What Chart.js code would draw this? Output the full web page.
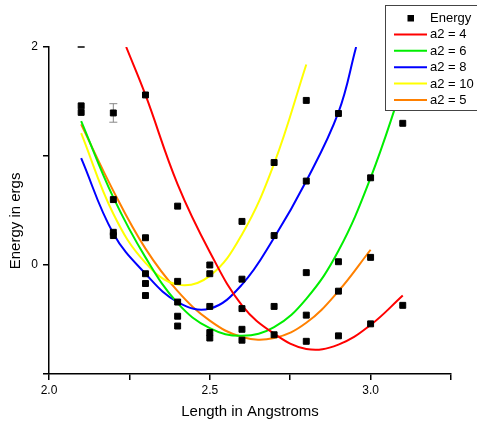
<!DOCTYPE html>
<html><head><meta charset="utf-8">
<script src="https://cdn.jsdelivr.net/npm/chart.js@4"></script>
<style>html,body{margin:0;padding:0;background:#fff}canvas{display:block}</style>
</head><body>
<canvas id="c" width="477" height="421"></canvas>
<script>
// Measured points (Energy)
const energyX = [2.1,2.1, 2.2,2.2,2.2,2.2, 2.3,2.3,2.3,2.3,2.3, 2.4,2.4,2.4,2.4,2.4, 2.5,2.5,2.5,2.5,2.5, 2.6,2.6,2.6,2.6,2.6, 2.7,2.7,2.7,2.7, 2.8,2.8,2.8,2.8,2.8, 2.9,2.9,2.9,2.9, 3.0,3.0,3.0, 3.1,3.1];
const energyY = [1.46,1.40, 1.395,0.60,0.30,0.27, 1.56,0.25,-0.08,-0.17,-0.28, 0.54,-0.15,-0.34,-0.47,-0.56, 0.00,-0.08,-0.38,-0.62,-0.67, 0.40,-0.13,-0.40,-0.59,-0.69, 0.94,0.27,-0.38,-0.64, 1.51,0.77,-0.07,-0.46,-0.70, 1.39,0.03,-0.24,-0.65, 0.80,0.07,-0.54, 1.30,-0.37];

// Error bar on one point
const errX = [2.2, 2.2];
const errY = [1.31, 1.48];
// Short cap mark at top edge
const capX = [2.1];
const capY = [2.0];

// Fitted curves
const a4X  = [2.24, 2.3, 2.4, 2.5, 2.6, 2.7, 2.8, 2.9, 3.0, 3.1];
const a4Y  = [2.0, 1.56, 0.74, 0.12, -0.37, -0.63, -0.77, -0.73, -0.55, -0.28];
const a6X  = [2.1, 2.2, 2.3, 2.4, 2.5, 2.6, 2.7, 2.8, 2.9, 3.0, 3.1];
const a6Y  = [1.32, 0.62, 0.07, -0.35, -0.58, -0.65, -0.57, -0.31, 0.13, 0.80, 1.65];
const a8X  = [2.1, 2.2, 2.3, 2.4, 2.5, 2.6, 2.7, 2.8, 2.9, 2.955];
const a8Y  = [0.98, 0.29, -0.08, -0.34, -0.40, -0.18, 0.25, 0.77, 1.40, 2.0];
const a10X = [2.1, 2.2, 2.3, 2.4, 2.5, 2.6, 2.7, 2.8];
const a10Y = [1.21, 0.47, 0.02, -0.18, -0.10, 0.28, 0.93, 1.84];
const a5X  = [2.1, 2.2, 2.3, 2.4, 2.5, 2.6, 2.7, 2.8, 2.9, 3.0];
const a5Y  = [1.29, 0.68, 0.15, -0.24, -0.51, -0.66, -0.67, -0.53, -0.24, 0.14];

const xTicksLabeled = [2.0, 2.5, 3.0];
const yTicksLabeled = [2, 0];

const pts = (xs, ys) => xs.map((x, i) => ({x, y: ys[i]}));
const FONT = 'Liberation Sans, Arial, sans-serif';

function curve(label, xs, ys, color) {
  return {label, data: pts(xs, ys), showLine: true, borderColor: color, backgroundColor: color,
    borderWidth: 2, pointRadius: 0, tension: 0.4, inLegend: true, kind: 'line'};
}

const boxLegend = {
  id: 'boxLegend',
  afterDraw(chart) {
    const ctx = chart.ctx;
    const items = chart.data.datasets.filter(d => d.inLegend);
    const left = 385, top = 5, width = 100, height = 105;
    ctx.save();
    ctx.fillStyle = '#fff';
    ctx.fillRect(left, top, width, height);
    ctx.strokeStyle = '#444';
    ctx.lineWidth = 1;
    ctx.strokeRect(left + 0.5, top + 0.5, width, height);
    ctx.font = '13px ' + FONT;
    ctx.textBaseline = 'middle';
    ctx.textAlign = 'left';
    items.forEach((d, i) => {
      const y = 18 + i * 16.4;
      if (d.kind === 'points') {
        ctx.fillStyle = '#000';
        ctx.fillRect(407.5, y - 3, 6.5, 6.5);
      } else {
        ctx.strokeStyle = d.borderColor;
        ctx.lineWidth = 2;
        ctx.beginPath();
        ctx.moveTo(394, y);
        ctx.lineTo(427, y);
        ctx.stroke();
      }
      ctx.fillStyle = '#000';
      ctx.fillText(d.label, 430, y + 0.5);
    });
    ctx.restore();
  }
};

const axisCommon = {
  grid: {display: true, drawOnChartArea: false, drawTicks: true, tickLength: 6, color: '#000', lineWidth: 1.5},
  border: {display: true, color: '#000', width: 1.5},
};

new Chart(document.getElementById('c'), {
  type: 'scatter',
  data: {
    datasets: [
      {label: 'Energy', data: pts(energyX, energyY), pointStyle: 'rect', pointRadius: 4.2,
        backgroundColor: '#000', borderColor: '#000', borderWidth: 1, showLine: false, inLegend: true, kind: 'points'},
      {label: 'err', data: pts(errX, errY), showLine: true, borderColor: '#888', borderWidth: 1,
        pointStyle: 'line', pointRadius: 4, pointBorderColor: '#888', pointBorderWidth: 1, backgroundColor: '#888'},
      {label: 'cap', data: pts(capX, capY), showLine: false, pointStyle: 'line', pointRadius: 3.5,
        pointBorderColor: '#000', pointBorderWidth: 1.5, borderColor: '#000', clip: false},
      curve('a2 = 4', a4X, a4Y, '#ff0000'),
      curve('a2 = 6', a6X, a6Y, '#00ee00'),
      curve('a2 = 8', a8X, a8Y, '#0000ff'),
      curve('a2 = 10', a10X, a10Y, '#ffff00'),
      curve('a2 = 5', a5X, a5Y, '#ff8000'),
    ]
  },
  options: {
    responsive: false,
    devicePixelRatio: 1,
    animation: false,
    layout: {padding: {top: 47, right: 26, bottom: 0, left: 0}},
    plugins: {legend: {display: false}, tooltip: {enabled: false}},
    scales: {
      x: {
        type: 'linear', min: 2.0, max: 3.25,
        ...axisCommon,
        afterFit(s) { s.height = 47; },
        ticks: {stepSize: 0.25, autoSkip: false, maxRotation: 0, padding: 3, color: '#000',
          font: {family: FONT, size: 12},
          callback: v => xTicksLabeled.some(t => Math.abs(t - v) < 1e-6) ? v.toFixed(1) : ''},
        title: {display: true, text: 'Length in Angstroms', color: '#000',
          font: {family: FONT, size: 15}, padding: {top: 0, bottom: 0}}
      },
      y: {
        type: 'linear', min: -1, max: 2,
        ...axisCommon,
        afterFit(s) { s.width = 49; },
        ticks: {stepSize: 1, autoSkip: false, padding: 5, color: '#000',
          font: {family: FONT, size: 12},
          callback: v => yTicksLabeled.includes(v) ? String(v) : ''},
        title: {display: true, text: 'Energy in ergs     ', color: '#000',
          font: {family: FONT, size: 15}, padding: {top: 7, bottom: 0}}
      }
    }
  },
  plugins: [boxLegend]
});
</script>
</body></html>
